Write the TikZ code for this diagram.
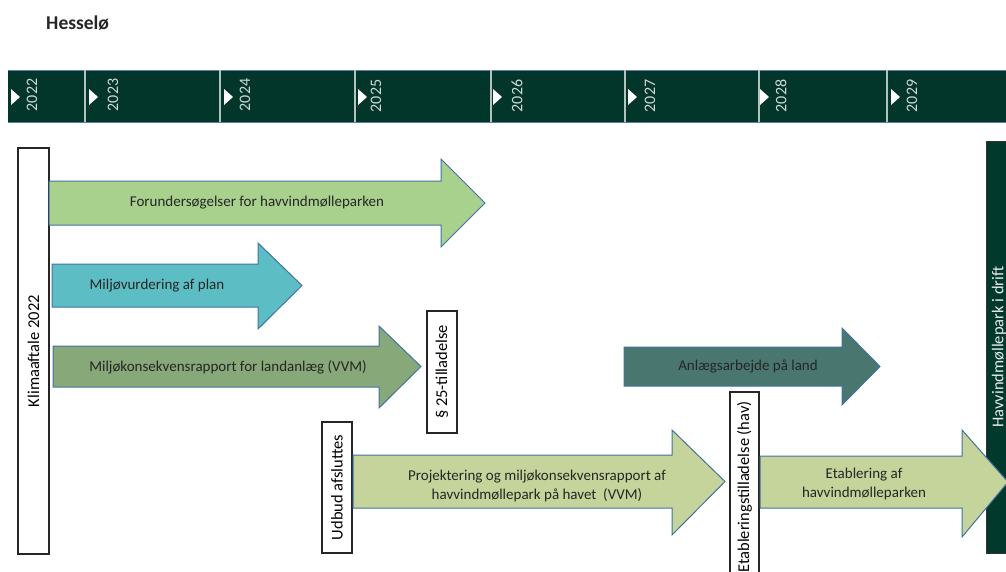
\documentclass[tikz,border=0pt]{standalone}
\usepackage{fontspec}
\setmainfont{Carlito}
\definecolor{bardark}{HTML}{02362A}
\definecolor{divider}{HTML}{B4C2BC}
\definecolor{barline}{HTML}{5A7FA8}
\definecolor{arrowline}{HTML}{4472A0}
\definecolor{cA}{HTML}{A9D18E}
\definecolor{cB}{HTML}{5CBDC4}
\definecolor{cC}{HTML}{87A878}
\definecolor{cD}{HTML}{C4D49A}
\definecolor{cE}{HTML}{4A7670}
\definecolor{drift}{HTML}{013A2C}
\definecolor{yeartext}{HTML}{D0D8D4}
\newcommand{\blockarrow}[8]{\draw[arr,fill=#1] (#2,#5) -- (#3,#5) -- (#3,#7) -- (#4,{(#5+#6)/2}) -- (#3,#8) -- (#3,#6) -- (#2,#6) -- cycle;}
\begin{document}
\begin{tikzpicture}[x=1pt,y=-1pt,
  arr/.style={draw=arrowline, line width=1pt, line join=miter},
  atext/.style={font=\fontsize{15}{19}\selectfont, text=black!85, align=center, inner sep=0pt},
  milestone/.style={draw=black!85, line width=1.3pt, fill=white, rotate=90, inner sep=0pt, font=\fontsize{16.5}{18}\selectfont},
  year/.style={rotate=90, text=yeartext, font=\fontsize{16}{17}\selectfont, inner sep=0pt},
  tri/.style={fill=white, draw=none}]
\useasboundingbox (0,0) rectangle (1006,571);
\fill[white] (0,0) rectangle (1006,571);
% title
\node[anchor=west, inner sep=0pt, font=\fontsize{19.5}{21}\selectfont\bfseries, text=black!85] (title) at (46,23) {Hesselø};
% timeline bar
\fill[bardark] (8,70) rectangle (1012,122);
\draw[barline, line width=0.8pt] (8,70) -- (1012,70) (8,122) -- (1012,122);
\foreach \x in {85,220,355,491,625,759,887} \draw[divider, line width=2pt] (\x,70) -- (\x,122);
\foreach \x in {11,89,224,358,493,628,760,891} \fill[tri] (\x,89) -- (\x+9,97) -- (\x,105) -- cycle;
\node[year] (y2022) at (32,95) {2022};
\node[year] (y2023) at (113,95) {2023};
\node[year] (y2024) at (245,95) {2024};
\node[year] (y2025) at (376,96) {2025};
\node[year] (y2026) at (517,96) {2026};
\node[year] (y2027) at (650,96) {2027};
\node[year] (y2028) at (781,96) {2028};
\node[year] (y2029) at (912,96) {2029};
% milestones
\node[milestone, minimum width=406pt, minimum height=31pt] (klima) at (33.5,351) {Klimaaftale 2022};
\node[milestone, minimum width=122pt, minimum height=30pt] (p25) at (442,372) {§ 25-tilladelse};
\node[milestone, minimum width=131pt, minimum height=30pt] (udbud) at (337,487.5) {Udbud afsluttes};
\node[milestone, minimum width=220pt, minimum height=29pt] (etabbox) at (744.5,502) {};
\node[rotate=90, anchor=east, inner sep=0pt, font=\fontsize{16.5}{18}\selectfont] (etabtxt) at (744.5,401) {Etableringstilladelse (hav)};
% in operation
\node[draw=black!80, line width=1pt, fill=drift, rotate=90, minimum width=412pt, minimum height=34pt, inner sep=0pt] (driftbox) at (1003,347) {};
\node[rotate=90, text=white!92!black, font=\fontsize{16.5}{18}\selectfont, inner sep=0pt] (drifttxt) at (999,347) {Havvindmøllepark i drift};
% arrows
\blockarrow{cA}{49}{441}{485}{181}{225}{159}{247}
\node[atext] (a1) at (257,203) {Forundersøgelser for havvindmølleparken};
\blockarrow{cB}{52}{258}{302}{264}{307}{243}{329}
\node[atext] (a2) at (157,286) {Miljøvurdering af plan};
\blockarrow{cC}{53}{379}{421}{346}{387}{326}{408}
\node[atext] (a3) at (228,367) {Miljøkonsekvensrapport for landanlæg (VVM)};
\blockarrow{cD}{353}{672}{725}{455}{508}{430}{535}
\node[atext] (a4) at (537,486) {Projektering og miljøkonsekvensrapport af\\havvindmøllepark på havet\ \ (VVM)};
\blockarrow{cE}{624}{842}{880}{347}{386}{328}{405}
\node[atext] (a5) at (748,366) {Anlægsarbejde på land};
\blockarrow{cD}{760}{962}{1008}{456}{508}{430}{537}
\node[atext] (a6) at (864,484) {Etablering af\\havvindmølleparken};
\end{tikzpicture}
\end{document}
